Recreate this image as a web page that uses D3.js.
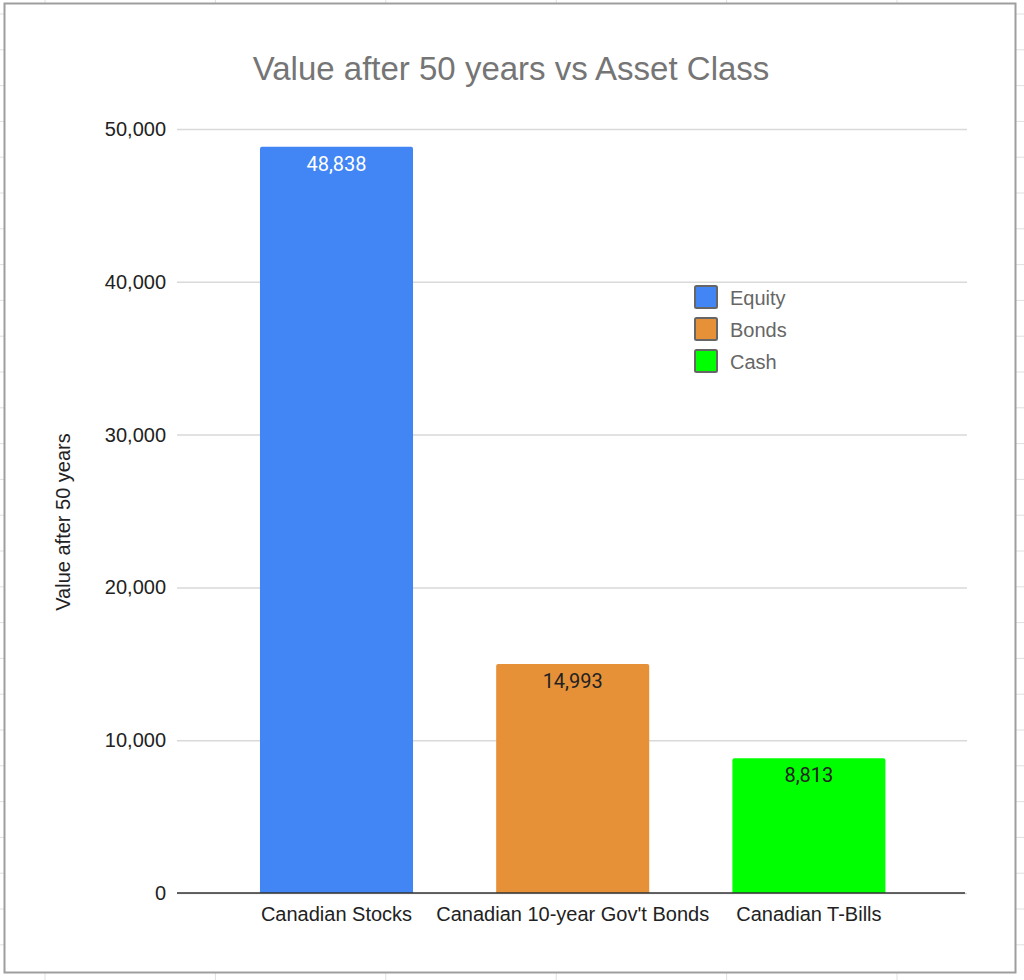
<!DOCTYPE html>
<html>
<head>
<meta charset="utf-8">
<script src="https://cdn.jsdelivr.net/npm/d3@7"></script>
<style>
  html, body { margin: 0; padding: 0; background: #fff; }
  svg { display: block; }
</style>
</head>
<body>
<div id="chart"></div>
<script>
// chart data
var categories = ["Canadian Stocks", "Canadian 10-year Gov't Bonds", "Canadian T-Bills"];
var values = [48838, 14993, 8813];
var seriesNames = ["Equity", "Bonds", "Cash"];
var barColors = ["#4285f4", "#e69138", "#00ff00"];
var labelColors = ["#ffffff", "#222222", "#222222"];
var yTicks = [0, 10000, 20000, 30000, 40000, 50000];

var W = 1024, H = 980,
    FONT = "'Liberation Sans', Arial, sans-serif";

var svg = d3.select("#chart").append("svg")
    .attr("width", W)
    .attr("height", H);

// spreadsheet grid showing round the chart box
var sheet = svg.append("g").attr("stroke", "#e0e0e0").attr("stroke-width", 1);
sheet.selectAll("line.v")
    .data(d3.range(45, W, 170.4))
  .enter().append("line")
    .attr("x1", function(d){ return d; }).attr("x2", function(d){ return d; })
    .attr("y1", 0).attr("y2", H);
sheet.selectAll("line.h")
    .data(d3.range(14, H, 35.8))
  .enter().append("line")
    .attr("y1", function(d){ return d; }).attr("y2", function(d){ return d; })
    .attr("x1", 0).attr("x2", W);

// chart box
svg.append("rect")
    .attr("x", 4.5).attr("y", 3.5)
    .attr("width", 1011).attr("height", 969)
    .attr("fill", "#fff")
    .attr("stroke", "#9e9e9e")
    .attr("stroke-width", 2);

var y = d3.scaleLinear().domain([0, 50000]).range([893, 129]);
var x = d3.scaleBand()
    .domain(categories)
    .range([218.4, 927])
    .paddingInner(0.352)
    .paddingOuter(0.176);

// title
svg.append("text")
    .attr("x", 511).attr("y", 80)
    .attr("text-anchor", "middle")
    .attr("font-family", FONT)
    .attr("font-size", 33)
    .attr("fill", "#757575")
    .text("Value after 50 years vs Asset Class");

// y axis: gridlines + labels
var yAxis = d3.axisLeft(y)
    .tickValues(yTicks)
    .tickFormat(d3.format(","))
    .tickSize(-790)
    .tickPadding(11);
var gy = svg.append("g")
    .attr("transform", "translate(177,0)")
    .call(yAxis);
gy.select(".domain").remove();
gy.selectAll(".tick line")
    .attr("stroke", "#d9d9d9")
    .attr("stroke-width", 1.5);
gy.selectAll(".tick text")
    .attr("font-family", FONT)
    .attr("font-size", 20)
    .attr("fill", "#222");

svg.append("text")
    .attr("transform", "translate(70,522) rotate(-90)")
    .attr("text-anchor", "middle")
    .attr("font-family", FONT)
    .attr("font-size", 20)
    .attr("fill", "#222")
    .text("Value after 50 years");

// bars, slightly rounded at the top
function barPath(d, i){
    var x0 = x(categories[i]), w = x.bandwidth(),
        y0 = y(d), y1 = y(0), r = 2;
    return "M" + x0 + "," + y1 +
        "V" + (y0 + r) +
        "Q" + x0 + "," + y0 + " " + (x0 + r) + "," + y0 +
        "H" + (x0 + w - r) +
        "Q" + (x0 + w) + "," + y0 + " " + (x0 + w) + "," + (y0 + r) +
        "V" + y1 + "Z";
}
svg.append("g").selectAll("path")
    .data(values)
  .enter().append("path")
    .attr("d", barPath)
    .attr("fill", function(d, i){ return barColors[i]; });

// data labels
svg.append("g").selectAll("text")
    .data(values)
  .enter().append("text")
    .attr("x", function(d, i){ return x(categories[i]) + x.bandwidth() / 2; })
    .attr("y", function(d){ return y(d) + 24; })
    .attr("text-anchor", "middle")
    .attr("font-family", "Roboto, sans-serif")
    .attr("font-size", 20)
    .attr("fill", function(d, i){ return labelColors[i]; })
    .text(function(d){ return d3.format(",")(d); });

// x axis
var gx = svg.append("g")
    .attr("transform", "translate(0,893)")
    .call(d3.axisBottom(x).tickSize(0).tickPadding(14));
gx.select(".domain").remove();
gx.selectAll(".tick text")
    .attr("font-family", FONT)
    .attr("font-size", 20)
    .attr("fill", "#222");
svg.append("line")
    .attr("x1", 177).attr("x2", 965)
    .attr("y1", y(0)).attr("y2", y(0))
    .attr("stroke", "#333")
    .attr("stroke-width", 1.5);

// legend
var legend = svg.append("g").selectAll("g")
    .data(seriesNames)
  .enter().append("g")
    .attr("transform", function(d, i){ return "translate(695," + (286 + i * 32) + ")"; });
legend.append("rect")
    .attr("width", 22).attr("height", 22)
    .attr("rx", 1.5)
    .attr("fill", function(d, i){ return barColors[i]; })
    .attr("stroke", "#666")
    .attr("stroke-width", 2);
legend.append("text")
    .attr("x", 35).attr("y", 19)
    .attr("font-family", FONT)
    .attr("font-size", 20)
    .attr("fill", "#666")
    .text(function(d){ return d; });
</script>
</body>
</html>
